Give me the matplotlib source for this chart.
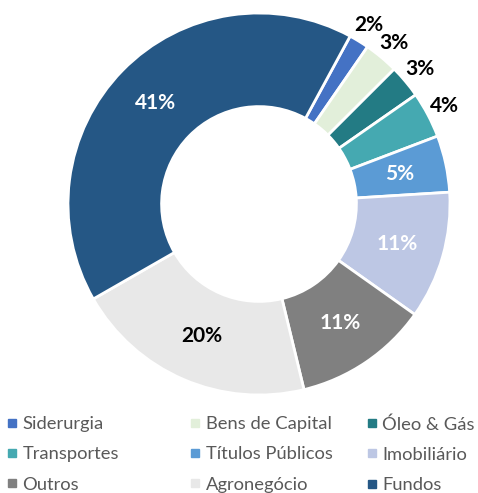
import numpy as np
import matplotlib.pyplot as plt
from matplotlib.lines import Line2D

plt.rcParams['font.family'] = ['Lato', 'DejaVu Sans']

categories = ['Siderurgia', 'Bens de Capital', 'Óleo & Gás', 'Transportes', 'Títulos Públicos',
              'Imobiliário', 'Outros', 'Agronegócio', 'Fundos']
values = [1.7, 2.9, 2.8, 3.9, 4.8, 10.8, 11.4, 20.5, 41.2]
colors = ['#4472C4', '#E2EFDA', '#237B84', '#45A9B1', '#5B9BD5',
          '#BDC7E4', '#808080', '#E8E8E8', '#255785']
label_colors = ['black', 'black', 'black', 'black', 'white', 'white', 'white', 'black', 'white']
outside = [True, True, True, True, False, False, False, False, False]

W, H = 478, 493
cx, cy, R = 259, 204, 191          # pixel centre / radius of the donut
fig = plt.figure(figsize=(W/100, H/100), dpi=100)
half = 215
ax = fig.add_axes([(cx-half)/W, (H-cy-half)/H, 2*half/W, 2*half/H])
lim = half/R

start = 61.5
wedges, _ = ax.pie(values, colors=colors, startangle=start, counterclock=False,
                   radius=1, wedgeprops=dict(width=0.49, edgecolor='white', linewidth=2))
ax.set_xlim(-lim, lim)
ax.set_ylim(-lim, lim)
ax.set_aspect('equal')
ax.axis('off')

cum = np.cumsum([0]+values)
for i, v in enumerate(values):
	mid = np.deg2rad(start - 3.6*(cum[i]+v/2))
	r = 1.1 if outside[i] else 0.755
	ax.text(r*np.cos(mid), r*np.sin(mid), '%.0f%%' % v, ha='center', va='center',
	        fontsize=15, fontweight='bold', color=label_colors[i])

# legend: three columns, row-major order like the original
col_x = [6, 189, 366]
for c in range(3):
	idx = [c, c+3, c+6]
	handles = [Line2D([], [], marker='s', ls='', color=colors[i], markersize=6) for i in idx]
	leg = fig.legend(handles, [categories[i] for i in idx], loc='upper left',
	                 bbox_to_anchor=(col_x[c]/W, 1-416/H), frameon=False, fontsize=13.2,
	                 labelcolor='#595959', handlelength=0.6, handletextpad=0.3,
	                 labelspacing=0.78, borderaxespad=0, borderpad=0)

fig.savefig('out.png', dpi=100)
